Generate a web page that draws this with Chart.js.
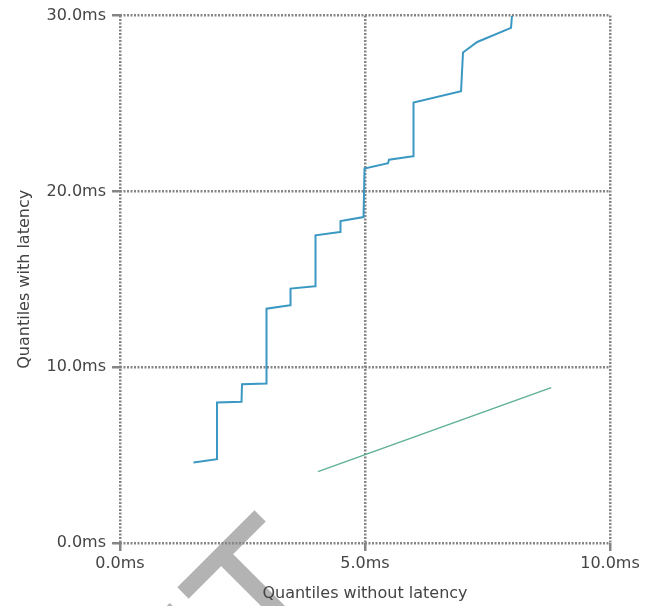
<!DOCTYPE html>
<html>
<head>
<meta charset="utf-8">
<script src="https://cdn.jsdelivr.net/npm/chart.js@4/dist/chart.umd.min.js"></script>
<style>
  html, body { margin: 0; padding: 0; background: #fff; }
  #wrap { width: 651px; height: 606px; position: relative; }
</style>
</head>
<body>
<div id="wrap"><canvas id="qq"></canvas></div>
<script>
// quantiles in ms
const withoutLatency = [1.50, 1.98, 1.98, 2.48, 2.49, 2.99, 2.99, 3.47, 3.48, 3.98, 3.99, 4.49, 4.50, 4.97, 4.99, 5.47, 5.49, 5.98, 5.99, 6.96, 7.00, 7.29, 7.98, 8.00];
const withLatency    = [4.58, 4.77, 7.99, 8.03, 9.03, 9.07, 13.33, 13.52, 14.47, 14.60, 17.50, 17.69, 18.31, 18.54, 21.30, 21.60, 21.80, 22.00, 25.06, 25.70, 27.90, 28.50, 29.30, 30.00];
const refX = [4.04, 8.80];
const refY = [4.06, 8.84];
const xTicks = [0, 5, 10];
const yTicks = [0, 10, 20, 30];

const TEXT = '#444';
const GRID = '#858585';

function toPoints(xs, ys) {
    return xs.map((x, i) => ({x: x, y: ys[i]}));
}

function msLabel(v) {
    return v.toFixed(1) + 'ms';
}

// grey mark that sits behind the plot in the original picture
const backdrop = {
    id: 'backdrop',
    beforeDraw(chart) {
        const ctx = chart.ctx;
        ctx.save();
        ctx.fillStyle = '#b3b3b3';
        const bar = (x, y, angle, len, w) => {
            ctx.save();
            ctx.translate(x, y);
            ctx.rotate(angle);
            ctx.fillRect(0, -w / 2, len, w);
            ctx.restore();
        };
        bar(183, 593, -Math.PI / 4, 109, 16);
        bar(222, 555, Math.PI / 4, 90, 17);
        bar(150, 634, -Math.PI / 4, 36, 16);
        ctx.restore();
    }
};

const font = {family: '"DejaVu Sans", Verdana, sans-serif', size: 16};

new Chart(document.getElementById('qq'), {
    type: 'scatter',
    data: {
        datasets: [{
            label: 'Quantiles',
            data: toPoints(withoutLatency, withLatency),
            showLine: true,
            borderColor: '#3a98c2',
            borderWidth: 2,
            pointRadius: 0,
            tension: 0
        }, {
            label: 'Reference',
            data: toPoints(refX, refY),
            showLine: true,
            borderColor: '#5fb096',
            borderWidth: 1.5,
            pointRadius: 0
        }]
    },
    options: {
        responsive: true,
        maintainAspectRatio: false,
        animation: false,
        layout: { padding: {top: 15, right: 41, bottom: 0, left: 0} },
        plugins: { legend: { display: false }, tooltip: { enabled: false } },
        scales: {
            x: {
                type: 'linear',
                min: 0, max: 10,
                afterBuildTicks: (s) => { s.ticks = xTicks.map(v => ({value: v})); },
                afterFit: (s) => { s.height = 63; },
                ticks: { color: TEXT, font: font, padding: 3, callback: msLabel, maxRotation: 0 },
                grid: { color: GRID, lineWidth: 2.5, tickLength: 8 },
                border: { display: false, dash: [2, 1.5] },
                title: { display: true, text: 'Quantiles without latency', color: TEXT, font: font, padding: {top: 0, bottom: 3} }
            },
            y: {
                type: 'linear',
                min: 0, max: 30,
                afterBuildTicks: (s) => { s.ticks = yTicks.map(v => ({value: v})); },
                afterFit: (s) => { s.width = 120; },
                ticks: { color: TEXT, font: font, padding: 6, callback: msLabel },
                grid: { color: GRID, lineWidth: 2.5, tickLength: 8 },
                border: { display: false, dash: [2, 1.5] },
                title: { display: true, text: 'Quantiles with latency', color: TEXT, font: font, padding: {top: 15, bottom: 0} }
            }
        }
    },
    plugins: [backdrop]
});
</script>
</body>
</html>
